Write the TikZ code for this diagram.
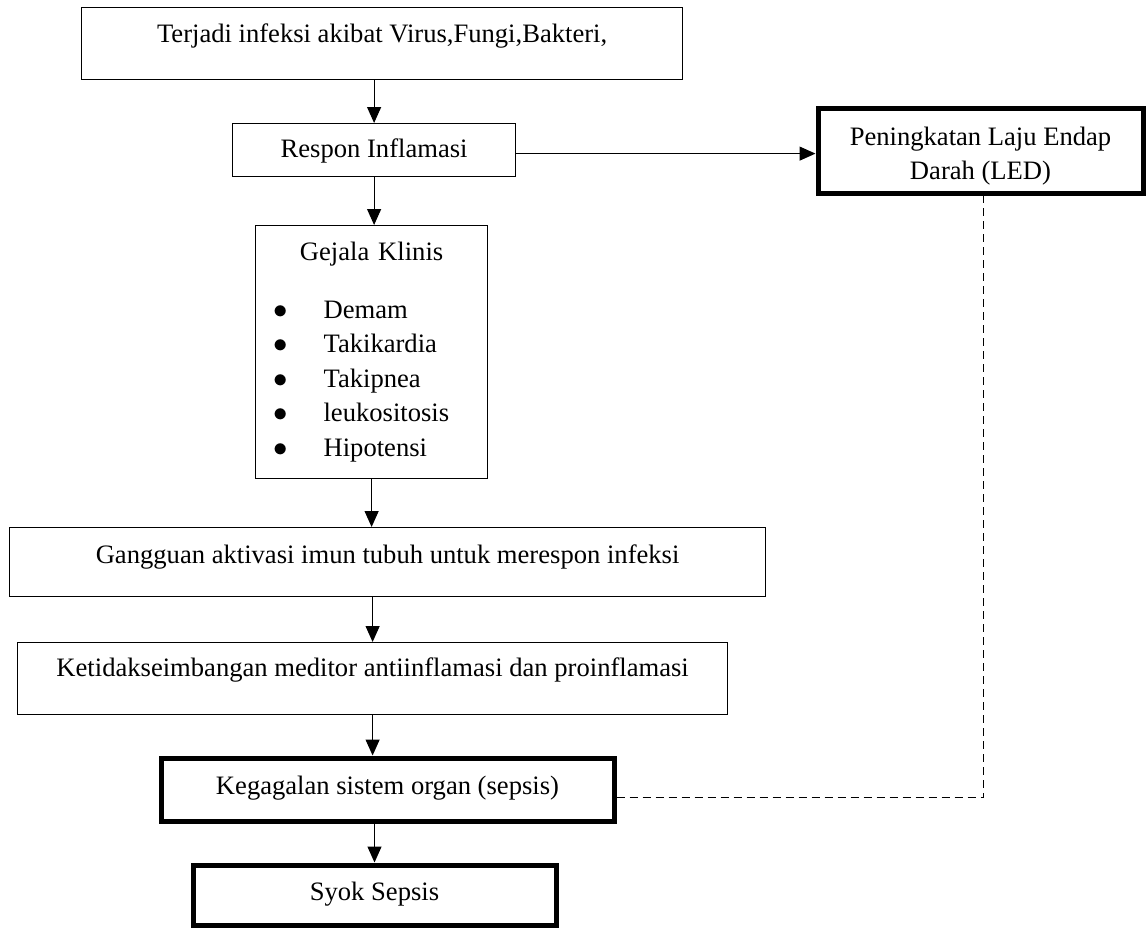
\documentclass[tikz,border=0pt]{standalone}
\usepackage{fontspec}
\setmainfont{Liberation Serif}
\usetikzlibrary{arrows.meta}
\newcommand\gitem[1]{\hspace*{9pt}\makebox[25pt][l]{$\bullet$}#1\par}
\begin{document}
\begin{tikzpicture}[
x=0.5pt, y=-0.5pt,
box/.style={draw, line width=0.6pt, inner sep=0pt, anchor=north west,
  align=center, font=\fontsize{13.3}{17.25}\selectfont},
thickbox/.style={box, line width=2.5pt},
arr/.style={-{Triangle[length=8pt,width=7pt]}, line width=0.6pt},
dashline/.style={line width=0.7pt, dash pattern=on 4pt off 2.5pt}
]
\useasboundingbox (0,0) rectangle (1146,927);
\node (infeksi) [box, minimum width=300.5pt, text height=17.5pt, text depth=18.5pt]
  at (81,7) {Terjadi infeksi akibat Virus,Fungi,Bakteri,};
\node (respon) [box, minimum width=141.5pt, text height=17pt, text depth=9.5pt]
  at (232,123) {Respon Inflamasi};
\node (led) [thickbox, minimum width=162.5pt, text height=35.75pt, text depth=6.75pt]
  at (815.5,105.5) {Peningkatan Laju Endap\\Darah (LED)};
\node (gejala) [box, align=left, text width=116pt, text height=17.5pt, text depth=109pt]
  at (255,225) {\centering Gejala Klinis\par\vspace{11.5pt}\raggedright
  \gitem{Demam}\gitem{Takikardia}\gitem{Takipnea}\gitem{leukositosis}\gitem{Hipotensi}};
\node (gangguan) [box, minimum width=378pt, text height=18pt, text depth=16.5pt]
  at (9,527) {Gangguan aktivasi imun tubuh untuk merespon infeksi};
\node (ketidak) [box, minimum width=355pt, text height=17pt, text depth=19pt]
  at (17,642) {Ketidakseimbangan meditor antiinflamasi dan proinflamasi};
\node (kegagalan) [thickbox, minimum width=226.5pt, text height=18.25pt, text depth=13.25pt]
  at (158.5,755.5) {Kegagalan sistem organ (sepsis)};
\node (syok) [thickbox, minimum width=181.5pt, text height=17.75pt, text depth=12.25pt]
  at (190.5,862.5) {Syok Sepsis};

% main flow
\draw[arr] (respon.north |- infeksi.south) -- (respon.north);
\draw[arr] (respon.south) -- (respon.south |- gejala.north);
\draw[arr] (gejala.south) -- (gejala.south |- gangguan.north);
\draw[arr] (ketidak.north |- gangguan.south) -- (ketidak.north);
\draw[arr] (ketidak.south) -- (ketidak.south |- kegagalan.north);
\draw[arr] (syok.north |- kegagalan.south) -- (syok.north);
% side branch
\draw[arr] ([yshift=-1.75pt]respon.east) -- ([yshift=-1.75pt]respon.east -| led.west);
\draw[dashline] ([yshift=-4pt]kegagalan.east) -- ([yshift=-4pt,xshift=1.5pt]kegagalan.east -| led.south)
  -- ([xshift=1.5pt]led.south);
\end{tikzpicture}
\end{document}
